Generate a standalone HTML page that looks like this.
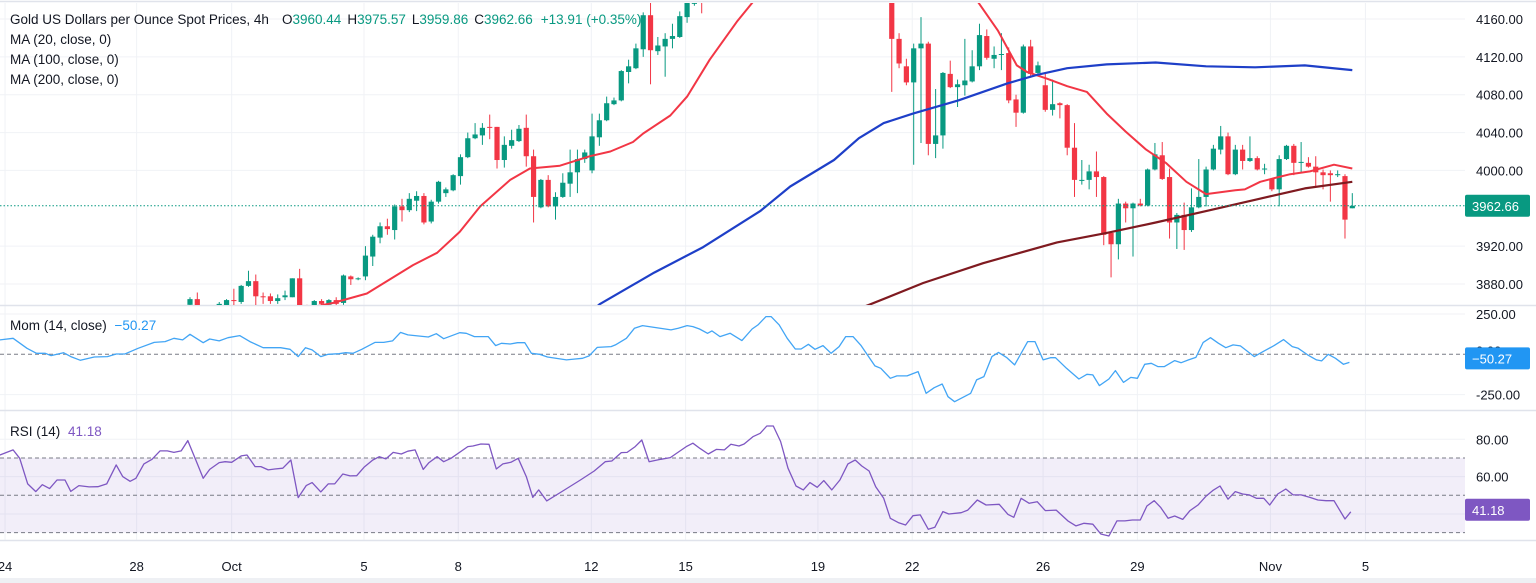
<!DOCTYPE html>
<html><head><meta charset="utf-8"><style>
html,body{margin:0;padding:0;background:#fff;}
svg{display:block;font-family:"Liberation Sans",sans-serif;}
</style></head><body>
<svg id="chart" width="1536" height="583" viewBox="0 0 1536 583">
<rect x="0" y="0" width="1536" height="583" fill="#ffffff"/>
<g id="grid"></g>
<defs>
<clipPath id="mainClip"><rect x="0" y="3" width="1465" height="302"/></clipPath>
<clipPath id="momClip"><rect x="0" y="307" width="1465" height="102"/></clipPath>
<clipPath id="rsiClip"><rect x="0" y="412" width="1465" height="128"/></clipPath>
</defs>
<g id="main" clip-path="url(#mainClip)"></g>
<g id="mom" clip-path="url(#momClip)"></g>
<g id="rsi" clip-path="url(#rsiClip)"></g>
<g id="axes"></g>
<g font-size="13.5">
<text x="10" y="24" fill="#131722">Gold US Dollars per Ounce Spot Prices, 4h</text>
<text x="282" y="24"><tspan fill="#131722">O</tspan><tspan fill="#089981">3960.44</tspan><tspan fill="#131722" dx="6">H</tspan><tspan fill="#089981">3975.57</tspan><tspan fill="#131722" dx="6">L</tspan><tspan fill="#089981">3959.86</tspan><tspan fill="#131722" dx="6">C</tspan><tspan fill="#089981">3962.66</tspan><tspan fill="#089981" dx="8">+13.91 (+0.35%)</tspan></text>
<text x="10" y="44" fill="#131722">MA (20, close, 0)</text>
<text x="10" y="64" fill="#131722">MA (100, close, 0)</text>
<text x="10" y="84" fill="#131722">MA (200, close, 0)</text>
<text x="10" y="330" fill="#131722">Mom (14, close) <tspan fill="#2196f3" dx="4">−50.27</tspan></text>
<text x="10" y="436" fill="#131722">RSI (14) <tspan fill="#7e57c2" dx="4">41.18</tspan></text>
</g>
</svg>
<script>
// ---- data ----
const opens=[3858,3864,3845,3850,3854,3856,3863,3861,3878,3883,3867,3867,3862,3866,3866,3886,3855,3856,3862,3858,3863,3860,3888,3885,3888,3909,3929,3941,3937,3962,3958,3968,3973,3946,3967,3976,3979,3994,4014,4034,4037,4046,4046,4011,4026,4031,4045,4015,3961,3990,3962,3972,3986,3998,4012,4000,4035,4053,4070,4074,4104,4108,4128,4164,4126,4131,4139,4141,4162,4176,4185,4200,
4195,4200,4215,4230,4245,4240,4260,4275,4290,4300,4320,4335,4350,4345,4360,4370,4355,4375,4330,4300,4340,4310,4250,4230,
4215,4139,4110,4093,4129,4134,4028,4037,4102,4088,4090,4094,4110,4142,4118,4122,4124,4075,4061,4131,4103,4090,4064,4071,4069,4024,3989,3990,3999,3993,3934,3922,3965,3960,3965,3963,4001,4016,3993,3945,3953,3937,3961,3972,4001,4022,4036,3996,4022,4010,4013,4001,3991,3980,4012,4026,4008,4008,4004,3998,3997,3995,3994,3960];
const highs=[3866,3871,3855,3856,3861,3864,3875,3879,3894,3890,3871,3870,3869,3873,3886,3896,3858,3863,3864,3864,3866,3890,3889,3887,3920,3932,3945,3949,3964,3970,3976,3978,3976,3969,3989,3982,3996,4017,4040,4050,4050,4059,4046,4036,4043,4048,4059,4022,3991,3995,3977,3997,4022,4022,4022,4060,4060,4078,4077,4106,4117,4134,4167,4185,4141,4145,4155,4168,4195,4190,4195,4210,
4210,4225,4240,4255,4255,4270,4285,4300,4310,4330,4345,4360,4360,4370,4380,4375,4385,4385,4340,4350,4350,4320,4260,4240,
4220,4145,4118,4134,4162,4136,4086,4104,4116,4096,4139,4127,4155,4149,4131,4145,4130,4080,4133,4138,4115,4103,4096,4072,4070,4050,4011,4006,4020,3994,3935,3970,3967,3966,3970,4002,4029,4030,4002,3955,3966,3981,4012,4004,4027,4047,4040,4027,4027,4036,4015,4007,3991,4016,4027,4028,4030,4014,4015,4001,4000,4000,3996,3976];
const lows=[3857,3855,3840,3846,3850,3852,3855,3859,3877,3857,3859,3859,3859,3863,3866,3850,3848,3853,3856,3856,3857,3858,3879,3884,3884,3899,3923,3932,3927,3946,3956,3957,3943,3944,3965,3972,3978,3985,4013,4033,4027,4033,4002,4003,4023,4030,4004,3945,3960,3961,3948,3971,3972,3976,4008,3997,4026,4052,4069,4073,4092,4107,4120,4091,4122,4099,4129,4140,4156,4174,4166,4178,
4188,4192,4205,4220,4232,4232,4250,4265,4280,4290,4310,4325,4337,4337,4350,4347,4347,4322,4292,4292,4302,4242,4222,4207,
4083,4108,4090,4006,4029,4016,4013,4023,4087,4067,4079,4093,4106,4117,4108,4106,4071,4046,4060,4098,4100,4062,4058,4055,4016,3972,3985,3980,3972,3921,3887,3906,3945,3909,3962,3962,4000,3990,3928,3917,3916,3935,3960,3962,4000,4017,3995,3995,4001,4009,4000,3996,3978,3962,4011,3995,3997,4003,3983,3980,3967,3993,3928,3960];
const closes=[3864,3857,3850,3852,3859,3863,3862,3878,3883,3867,3866,3862,3865,3868,3886,3855,3852,3862,3859,3863,3859,3889,3885,3886,3910,3930,3941,3938,3962,3958,3970,3973,3945,3967,3988,3980,3995,4014,4034,4038,4045,4045,4011,4027,4032,4044,4015,3972,3990,3962,3972,3987,3998,4012,4019,4036,4053,4071,4074,4105,4110,4129,4164,4127,4132,4139,4142,4163,4185,4178,4180,4195,
4200,4215,4230,4245,4240,4260,4275,4290,4300,4320,4335,4350,4345,4360,4370,4355,4375,4330,4300,4340,4310,4250,4230,4215,
4139,4113,4093,4129,4134,4028,4037,4103,4088,4091,4095,4110,4143,4119,4122,4123,4074,4061,4131,4102,4111,4064,4070,4069,4024,3990,3990,3999,3993,3932,3922,3965,3960,3965,3963,4001,4017,3991,3945,3953,3937,3961,3972,4001,4023,4036,3996,4022,4010,4013,4001,4002,3980,4012,4026,4008,4009,4004,3998,3995,3995,3996,3948,3962.66];

const ma20T=[10,19.6,24.2,30.5,33.8,36.9,39.7,43.8,46.5,50.6,54.7,57.5,60.6,62,65.7,68,71.1,74.8,77,85,92,98,103,107.8,110.5,113.1,114.5,117.2,120,122.7,125.4,128,130.8,133.5,136.3,139,143,144.3,146.4,148.4,150.5,153.2,156.5,159];
const ma20V=[3845,3860,3870,3900,3913,3935,3962,3990,4002,4005,4015,4020,4030,4039,4058,4078,4117,4157,4178,4230,4255,4245,4215,4178,4148,4111,4104,4097,4089,4083,4060,4041,4022,4008,3988,3975,3979,3980,3988,3992,3996,3999,4006,4002];
const ma100T=[50,56.1,63.5,70.2,78,82.1,88.1,91.5,94.9,98.9,105.1,111.8,115.9,120,125.4,132.1,139,145.7,152.5,159];
const ma100V=[3820,3859,3892,3919,3957,3983,4011,4034,4050,4060,4074,4092,4101,4108,4112,4114,4110,4109,4111,4106];
const ma200T=[85,92.9,100.3,108.5,118.6,125.4,132.1,139,145.7,152.5,159];
const ma200V=[3835,3858,3881,3902,3924,3934,3945,3957,3969,3981,3988];

const momT=[-26,-24.2,-22.3,-21,-19.8,-19,-17.3,-16.3,-15,-13.1,-11.3,-10.1,-8.9,-7.1,-4.9,-3.4,-2.2,-1,0,1.8,2.7,4,5.2,6.8,8.2,10,12.4,13.7,14.8,15.8,16.7,17.9,18.9,20.4,21.3,22.3,23.5,25.3,26.5,27.7,28.8,29.8,32.6,33.7,34.7,36.9,37.8,38.9,40.8,41.8,42.6,43.8,44.8,45.8,46.7,47.8,48.9,51.5,52.7,53.7,54.6,55.7,57.6,58.2,59.7,60.8,61.9,65.8,66.8,68,68.8,69.7,70.8,71.4,72.5,73.9,75.5,76.9,77.7,78.8,79.5,80.6,81.7,82.8,83.6,84.6,85.5,86.6,87.7,88.8,89.7,90.7,91.8,93.7,94.5,95.8,96.7,98.1,99.6,100.7,101.8,102.9,103.7,104.6,106.8,107.6,108.6,109.7,110.6,111.7,112.8,113.7,114.6,115.6,116.7,117.7,118.4,119.9,121.6,122.7,123.5,124.4,125.7,126.6,127.7,128.7,129.6,130.6,131.5,132.4,133.3,134.7,135.6,136.6,137.6,138.6,139.6,140.7,141.7,142.7,143.7,145.6,146.8,148.3,149.6,150.8,151.6,152.9,154.1,154.8,155.7,156.7,157.8,158.6];
const momV=[89,99,37,6,6,-8,10,-14,-37,-17,-14,2,2,37,74,79,99,89,124,72,95,83,103,116,79,41,41,31,-14,41,27,-14,0,4,10,6,31,74,74,83,136,120,107,128,97,134,130,110,110,54,68,64,72,72,6,0,-17,-35,-29,-25,-10,43,48,58,99,161,178,151,161,178,172,157,130,145,110,130,85,157,182,234,234,182,99,33,33,62,31,54,6,48,110,110,54,-72,-87,-149,-134,-134,-107,-242,-207,-184,-263,-294,-242,-159,-138,-14,12,-19,-66,6,79,79,-35,-21,-21,-87,-153,-124,-128,-194,-153,-101,-174,-143,-149,-62,-56,-76,-76,-39,-52,-35,-19,74,103,68,41,58,52,-14,17,54,91,48,37,-4,-35,-41,0,-25,-62,-50];

const rsiT=[-26,-24.2,-23.3,-22.2,-21.1,-20.2,-19.2,-18.2,-17.1,-16.3,-15.2,-13.8,-12.6,-11.4,-10.1,-9.2,-8.2,-7.4,-6.3,-5.2,-4.1,-3.1,-2.2,-1.2,-0.3,0.8,1.8,2.7,4,4.8,5.7,7,7.8,8.9,9.7,10.7,11.6,12.7,13.8,14.8,15.9,16.7,17.9,18.9,19.8,20.9,21.9,22.8,23.8,25,25.9,26.8,27.8,28.9,29.8,30.8,31.9,32.7,33.8,34.7,35.7,38,38.7,39.8,40.9,41.9,42.8,43.9,44.9,46,46.9,47.7,48.8,51,53.4,55.3,56.8,57.7,59,59.8,60.9,61.8,62.8,64.4,65.7,66.9,67.9,68.8,69.8,70.9,72,73.1,74,75.1,75.8,77,78,78.9,79.8,80.8,81.8,82.9,83.9,84.8,85.8,86.7,87.8,88.9,90,91,91.9,92.9,93.8,94.9,95.8,96.9,97.9,98.9,99.9,101,101.9,103,103.8,105.5,106.4,107.7,108.9,110.7,111.9,112.7,113.7,114.8,115.9,117,118.5,120.1,121.2,122.3,123.5,124.6,125.7,126.8,127.9,128.9,130,130.9,131.9,132.8,133.8,134.7,135.8,136.8,137.9,139,139.9,140.9,142,143,144,144.9,145.9,146.9,147.7,148.8,149.9,150.9,152,153.2,154.3,155.4,156.5,158,158.8];
const rsiV=[71.6,74.3,69.8,56.1,52,55.7,53.6,58.2,58.2,52.1,55.2,54.5,54.6,56.1,66.3,60,57.5,59.1,66.8,69.3,73.8,73.8,73,73.8,79.3,68.9,59.1,63.9,67.5,68,67.7,71.1,71.6,65.4,65.4,63.6,64.1,64.5,68.9,48.8,55.2,56.8,51.8,56.1,56.1,61.4,60.4,60.5,65,68.9,70.7,69.5,73,72.1,73.6,74.3,63.9,67.5,70.7,68,69.8,76.1,76.4,77.5,77.3,64.1,66.8,67.7,69.8,60,48.9,52.9,47,52.3,58.2,63,68,68.4,72.9,73,76.1,79.6,68,69.3,70.2,73.4,76.1,77.9,75,72.1,74.6,74.3,77.3,76.4,77.5,81.4,83.2,87.1,87.1,78.8,64.5,55,52.9,56.8,54.3,57.9,52.9,58.2,66.8,68.9,65.7,63,54.6,48.4,37.7,35.4,34.1,39.1,39.5,31.8,32.9,41.3,40,40.7,42.1,47.5,44.8,45.2,39.8,38.2,48.4,45.7,46.6,41.8,42.1,36.3,33.6,35,34.5,29.3,28.2,36.3,36.3,36.8,36.8,44.3,47.1,43.4,37.7,38.9,37.1,41.8,44.8,49.6,52.5,55,47.9,52,50.7,50.2,48.4,48.4,44.8,50.7,53.4,50.2,50.2,48.9,47.5,47.1,47.1,37.3,41.18];

const priceTicks=[4160,3880,4120,4080,4040,4000,3920];
const momTicks=[250,-250];
const rsiTicks=[80,60];
const dateLabels=["24","28","Oct","5","8","12","15","19","22","26","29","Nov","5"];
const dateT=[-25.3,-7.3,5.7,23.8,36.7,54.9,67.8,85.9,98.8,116.7,129.6,147.8,160.8];
const lastPrice=3962.66, lastMom=-50.27, lastRsi=41.18;

// ---- scales ----
const X0=190, STEP=7.31;
function xs(t){return X0+t*STEP;}
function ys(p){return 19+(4160-p)*0.9464;}
function ym(v){return 354.3-v*0.1613;}
function yr(v){return 439.3+(80-v)*1.867;}

const NS="http://www.w3.org/2000/svg";
function mk(tag,attrs,parent){const e=document.createElementNS(NS,tag);for(const k in attrs)e.setAttribute(k,attrs[k]);parent.appendChild(e);return e;}
const grid=document.getElementById('grid'),main=document.getElementById('main'),mom=document.getElementById('mom'),rsi=document.getElementById('rsi'),axes=document.getElementById('axes');

// grid lines
for(let i=0;i<dateT.length;i++){
  const l=mk('line',{x1:xs(dateT[i]),x2:xs(dateT[i]),y1:3,y2:540,stroke:'#f0f2f6','stroke-width':1},grid);
  
  
}
for(const p of priceTicks){
  const l=mk('line',{x1:0,x2:1465,y1:ys(p),y2:ys(p),stroke:'#f0f2f6','stroke-width':1},grid);
  
  
}
for(const v of momTicks){
  const l=mk('line',{x1:0,x2:1465,y1:ym(v),y2:ym(v),stroke:'#f0f2f6'},grid);
  
  
}
for(const v of [80,60,40]){
  const l=mk('line',{x1:0,x2:1465,y1:yr(v),y2:yr(v),stroke:'#f0f2f6'},grid);
  
  
}
// pane separators & frame
[[0,1.5,1536,1.5],[0,305.5,1536,305.5],[0,410.5,1536,410.5],[0,540.5,1536,540.5]].forEach(s=>{
  const l=mk('line',{x1:s[0],y1:s[1],x2:s[2],y2:s[3],stroke:'#e0e3eb','stroke-width':1.5},grid);
  
  
});
const bb=mk('rect',{x:0,y:578,width:1536,height:5,fill:'#eef0f4'},grid);



// candles
for(let i=0;i<closes.length;i++){
  const up=closes[i]>=opens[i], col=up?'#089981':'#f23645', x=xs(i);
  const w=mk('line',{x1:x,x2:x,y1:ys(highs[i]),y2:ys(lows[i]),stroke:col,'stroke-width':1},main);
  
  
  const top=ys(Math.max(opens[i],closes[i])), bot=ys(Math.min(opens[i],closes[i]));
  const b=mk('rect',{x:x-2.6,y:top,width:5.2,height:Math.max(1,bot-top),fill:col},main);
  
  
}
function poly(T,V,yf,col,w,parent,name){
  const pts=T.map((t,i)=>xs(t).toFixed(1)+','+yf(V[i]).toFixed(1)).join(' ');
  const p=mk('polyline',{points:pts,fill:'none',stroke:col,'stroke-width':w,'stroke-linejoin':'round'},parent);
  
  
}
poly(ma20T,ma20V,ys,'#f23645',2,main,'ma20-line');
poly(ma100T,ma100V,ys,'#1e3fc8',2.2,main,'ma100-line');
poly(ma200T,ma200V,ys,'#7f1a20',2.2,main,'ma200-line');
const lp=mk('line',{x1:0,x2:1465,y1:ys(lastPrice),y2:ys(lastPrice),stroke:'#089981','stroke-dasharray':'1.5 2','stroke-width':1},main);



// momentum
const mz=mk('line',{x1:0,x2:1465,y1:ym(0),y2:ym(0),stroke:'#787b86','stroke-dasharray':'4 3'},mom);


poly(momT,momV,ym,'#42a5f5',1.3,mom,'momentum-line');

// rsi
const band=mk('rect',{x:0,y:yr(70),width:1465,height:yr(30)-yr(70),fill:'#7e57c2','fill-opacity':0.1},rsi);


for(const v of [70,50,30]){
  const l=mk('line',{x1:0,x2:1465,y1:yr(v),y2:yr(v),stroke:'#787b86','stroke-dasharray':'4 3'},rsi);
  
  
}
poly(rsiT,rsiV,yr,'#7e57c2',1.3,rsi,'rsi-line');

// axes labels
function label(x,y,txt,name,anchor){
  const t=mk('text',{x:x,y:y,'font-size':13,fill:'#131722','text-anchor':anchor||'start'},axes);
  t.textContent=txt;
  
  
  return t;
}
for(const p of priceTicks){label(1476,ys(p)+5,p.toFixed(2),'price-tick-label');}
for(const v of momTicks){label(1476,ym(v)+5,v.toFixed(2),'momentum-tick-label');}
label(1476,ym(0)+1,'0.00','momentum-tick-label');
for(const v of rsiTicks){label(1476,yr(v)+5,v.toFixed(2),'rsi-tick-label');}
for(let i=0;i<dateLabels.length;i++){label(xs(dateT[i]),571,dateLabels[i],'date-label','middle');}
function badge(y,txt,col,name){
  const r=mk('rect',{x:1465,y:y-11,width:65,height:22,rx:2,fill:col},axes);
  
  
  const t=mk('text',{x:1472,y:y+5,'font-size':13,fill:'#ffffff'},axes);
  t.textContent=txt;
  
  
}
badge(ys(lastPrice),lastPrice.toFixed(2),'#089981','last-price');
badge(ym(lastMom)-4,'−'+Math.abs(lastMom).toFixed(2),'#2196f3','momentum');
badge(yr(lastRsi)-2,lastRsi.toFixed(2),'#7e57c2','rsi');
</script>
</body></html>
